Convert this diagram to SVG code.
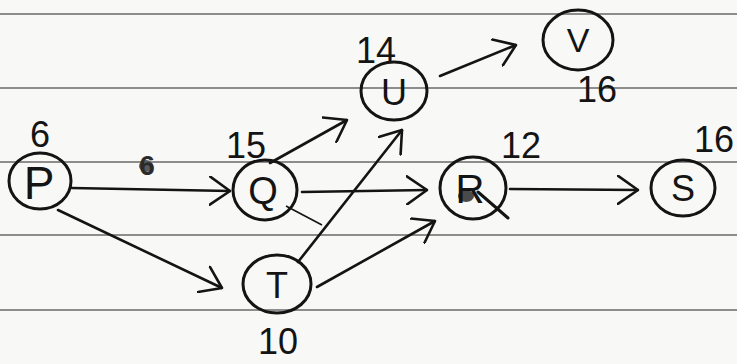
<svg xmlns="http://www.w3.org/2000/svg" width="737" height="364" viewBox="0 0 737 364">
  <style>
    .ruled { stroke: #6a6a6a; stroke-width: 1.4; }
    .ring { fill: none; stroke: #141414; stroke-width: 3; }
    .letter { font-family: "Liberation Sans", "DejaVu Sans", sans-serif; fill: #141414; text-anchor: middle; }
    .num { font-family: "Liberation Sans", "DejaVu Sans", sans-serif; fill: #141414; text-anchor: middle; font-size: 36px; }
    .edge { fill: none; stroke: #141414; stroke-width: 2.6; stroke-linecap: round; marker-end: url(#head); }
  </style>
  <defs>
    <marker id="head" viewBox="0 0 22 30" refX="21" refY="15" markerWidth="22" markerHeight="30" markerUnits="userSpaceOnUse" orient="auto">
      <path d="M1,1 L21,15 L1,29" fill="none" stroke="#141414" stroke-width="2.6" stroke-linecap="round" stroke-linejoin="round"/>
    </marker>
  </defs>

  <!-- notebook paper -->
  <rect x="0" y="0" width="737" height="364" fill="#f8f8f7"/>
  <g id="paper-lines">
    <line class="ruled" x1="0" y1="14" x2="737" y2="14"/>
    <line class="ruled" x1="0" y1="88" x2="737" y2="88"/>
    <line class="ruled" x1="0" y1="162" x2="737" y2="162"/>
    <line class="ruled" x1="0" y1="235" x2="737" y2="235"/>
    <line class="ruled" x1="0" y1="310" x2="737" y2="310"/>
  </g>

  <!-- connectors -->
  <g id="edges">
    <path class="edge" d="M72,188 L230,191"/>
    <path class="edge" d="M58,210 L222,288"/>
    <path class="edge" d="M270,163 L347,120"/>
    <path class="edge" d="M302,192 L427,190"/>
    <path class="edge" d="M298,262 L402,130"/>
    <path class="edge" d="M317,287 L435,221"/>
    <path class="edge" d="M440,76 L516,45"/>
    <path class="edge" d="M510,189 L638,190"/>
    <!-- weight on P to Q, inked over -->
    <g id="weight-pq">
      <ellipse cx="146" cy="166" rx="7" ry="6" fill="#5a5a5a"/>
      <text class="num" x="147" y="175" style="font-size:28px;font-weight:bold;fill:#2a2a2a">6</text>
    </g>
  </g>

  <!-- nodes -->
  <g id="node-P">
    <ellipse class="ring" cx="40" cy="181" rx="31" ry="28"/>
    <text class="letter" x="39" y="199" font-size="46">P</text>
    <text class="num" x="40" y="147">6</text>
  </g>
  <g id="node-Q">
    <ellipse class="ring" cx="265" cy="190" rx="32" ry="30"/>
    <text class="letter" x="263" y="204" font-size="38">Q</text>
    <path d="M286,206 L322,225" stroke="#141414" stroke-width="1.6" fill="none"/>
    <text class="num" x="246" y="158">15</text>
  </g>
  <g id="node-T">
    <ellipse class="ring" cx="277" cy="284" rx="34" ry="29"/>
    <text class="letter" x="277" y="298" font-size="36">T</text>
    <text class="num" x="278" y="354">10</text>
  </g>
  <g id="node-U">
    <ellipse class="ring" cx="394" cy="91" rx="33" ry="29"/>
    <text class="letter" x="394" y="105" font-size="36">U</text>
    <text class="num" x="376" y="63">14</text>
  </g>
  <g id="node-V">
    <ellipse class="ring" cx="578" cy="40" rx="35" ry="30"/>
    <text class="letter" x="578" y="52" font-size="34">V</text>
    <text class="num" x="597" y="102">16</text>
  </g>
  <g id="node-R">
    <ellipse class="ring" cx="473" cy="188" rx="33" ry="31"/>
    <ellipse cx="466" cy="196" rx="8" ry="6" fill="#4a4a4a"/>
    <text class="letter" x="470" y="203" font-size="40">R</text>
    <path d="M478,192 L508,218" stroke="#141414" stroke-width="3" fill="none" stroke-linecap="round"/>
    <text class="num" x="521" y="158">12</text>
  </g>
  <g id="node-S">
    <ellipse class="ring" cx="683" cy="188" rx="32" ry="28"/>
    <text class="letter" x="683" y="201" font-size="36">S</text>
    <text class="num" x="694" y="152" style="text-anchor:start">16</text>
  </g>
</svg>
